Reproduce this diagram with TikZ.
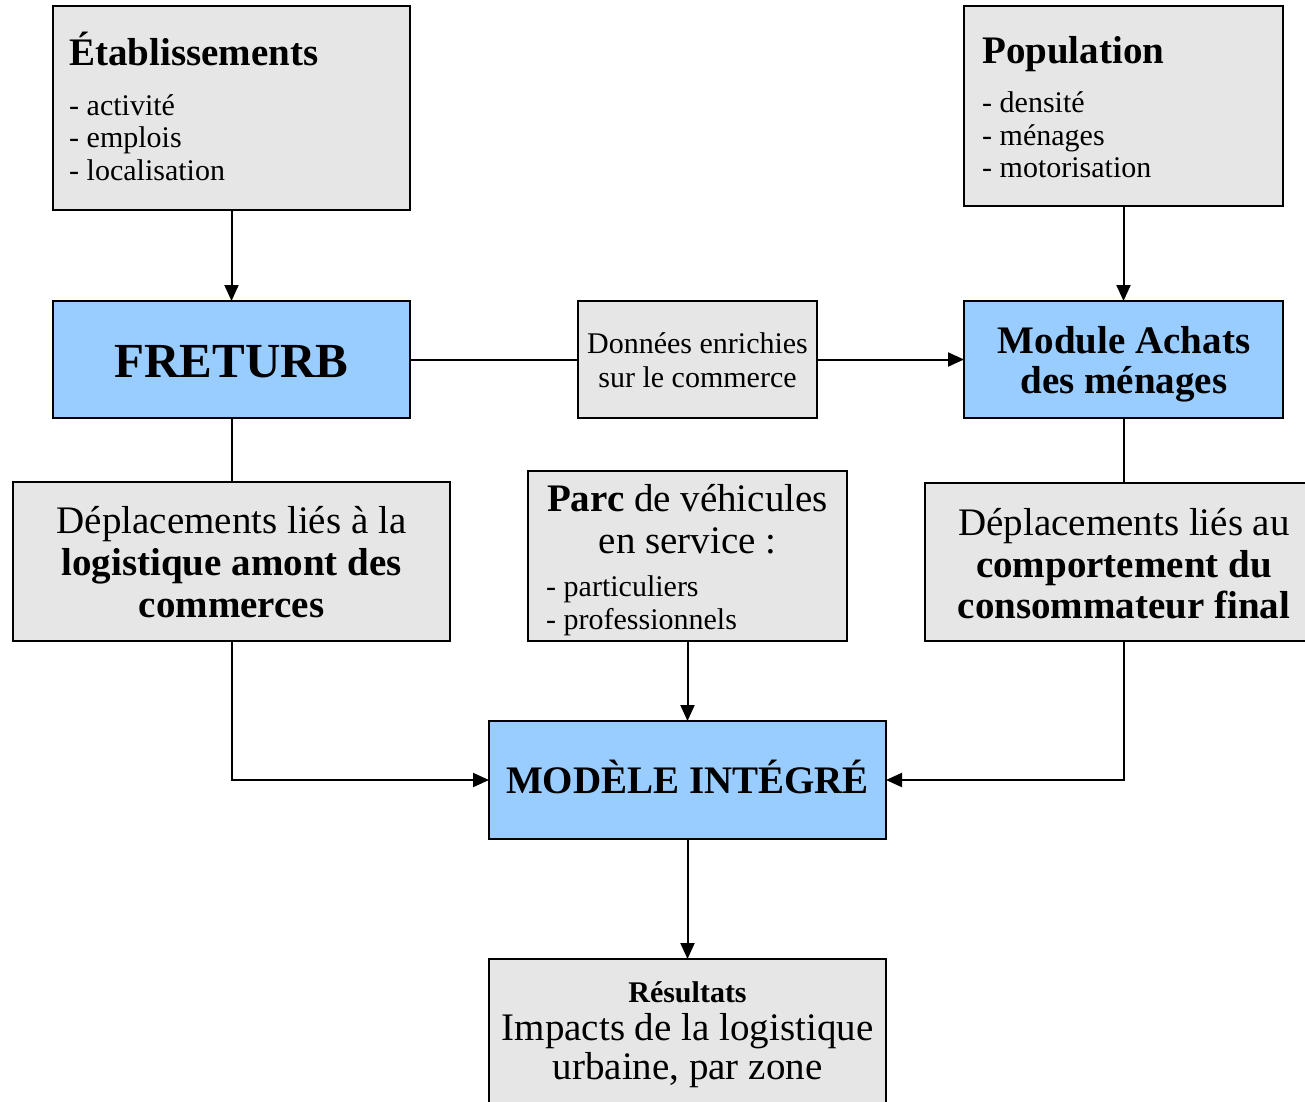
\documentclass[tikz,border=0pt]{standalone}
\usepackage{fontspec}
\setmainfont{Liberation Serif}
\usetikzlibrary{arrows.meta}
\definecolor{boxgrey}{HTML}{E6E6E6}
\definecolor{boxblue}{HTML}{99CCFF}
\begin{document}
\begin{tikzpicture}[x=1pt,y=-1pt,
  gbox/.style={draw=black, line width=2pt, fill=boxgrey, inner sep=0pt, outer sep=0pt},
  bbox/.style={draw=black, line width=2pt, fill=boxblue, inner sep=0pt, outer sep=0pt},
  conn/.style={line width=2pt},
  arr/.style={line width=2pt, -{Triangle[length=16pt,width=14pt]}},
  txt/.style={inner sep=0pt, anchor=base},
  ltxt/.style={inner sep=0pt, anchor=base west},
  big/.style={font=\fontsize{39}{42}\selectfont},
  bigb/.style={font=\fontsize{39}{42}\selectfont\bfseries},
  small/.style={font=\fontsize{30}{33}\selectfont},
  huge/.style={font=\fontsize{49}{52}\selectfont\bfseries}]
\useasboundingbox (0,0) rectangle (1305,1101);
\fill[white] (0,0) rectangle (1305,1101);
% boxes
\node[gbox, minimum width=357pt, minimum height=204pt] (etab) at (231.5,108) {};
\node[gbox, minimum width=319pt, minimum height=200pt] (pop) at (1123.5,106) {};
\node[bbox, minimum width=357pt, minimum height=117pt] (fret) at (231.5,359.5) {};
\node[gbox, minimum width=239pt, minimum height=117pt] (don) at (697.5,359.5) {};
\node[bbox, minimum width=319pt, minimum height=117pt] (modA) at (1123.5,359.5) {};
\node[gbox, minimum width=437pt, minimum height=159pt] (depL) at (231.5,561.5) {};
\node[gbox, minimum width=319pt, minimum height=170pt] (parc) at (687.5,556) {};
\node[gbox, minimum width=398pt, minimum height=158pt] (depR) at (1123.5,562) {};
\node[bbox, minimum width=397pt, minimum height=118pt] (model) at (687.5,780) {};
\node[gbox, minimum width=397pt, minimum height=162pt] (res) at (687.5,1040) {};
% texts
\node[ltxt, bigb] (t1) at (69,65) {Établissements};
\node[ltxt, small] (t2) at (69,115) {- activité};
\node[ltxt, small] (t3) at (69,147) {- emplois};
\node[ltxt, small] (t4) at (69,180) {- localisation};
\node[ltxt, bigb] (p1) at (982,63) {Population};
\node[ltxt, small] (p2) at (982,112) {- densité};
\node[ltxt, small] (p3) at (982,145) {- ménages};
\node[ltxt, small] (p4) at (982,177) {- motorisation};
\node[txt, huge] (f1) at (231.5,377) {FRETURB};
\node[txt, small] (d1) at (697.5,353) {Données enrichies};
\node[txt, small] (d2) at (697.5,387) {sur le commerce};
\node[txt, bigb] (m1) at (1124,353) {Module Achats};
\node[txt, bigb] (m2) at (1124,393) {des ménages};
\node[txt, big] (l1) at (231.5,533) {Déplacements liés à la};
\node[txt, bigb] (l2) at (231.5,575) {logistique amont des};
\node[txt, bigb] (l3) at (231.5,617) {commerces};
\node[txt, big] (c1) at (687.5,511) {\textbf{Parc} de véhicules};
\node[txt, big] (c2) at (687.5,553) {en service :};
\node[ltxt, small] (c3) at (546,596) {- particuliers};
\node[ltxt, small] (c4) at (546,629) {- professionnels};
\node[txt, big] (r1) at (1124,535) {Déplacements liés au};
\node[txt, bigb] (r2) at (1124,577) {comportement du};
\node[txt, bigb] (r3) at (1124,618) {consommateur final};
\node[txt, bigb] (mi) at (687.5,793) {MODÈLE INTÉGRÉ};
\node[txt, font=\fontsize{30}{33}\selectfont\bfseries] (s1) at (687.5,1002) {Résultats};
\node[txt, big] (s2) at (687.5,1040) {Impacts de la logistique};
\node[txt, big] (s3) at (687.5,1079) {urbaine, par zone};
% connectors
\draw[arr] (etab.south) -- (fret.north);
\draw[arr] (pop.south) -- (modA.north);
\draw[conn] (fret.east) -- (don.west);
\draw[arr] (don.east) -- (modA.west);
\draw[conn] (fret.south) -- (depL.north);
\draw[conn] (modA.south) -- (depR.north);
\draw[arr] (depL.south) |- (model.west);
\draw[arr] (depR.south) |- (model.east);
\draw[arr] (parc.south) -- (model.north);
\draw[arr] (model.south) -- (res.north);
\end{tikzpicture}
\end{document}
